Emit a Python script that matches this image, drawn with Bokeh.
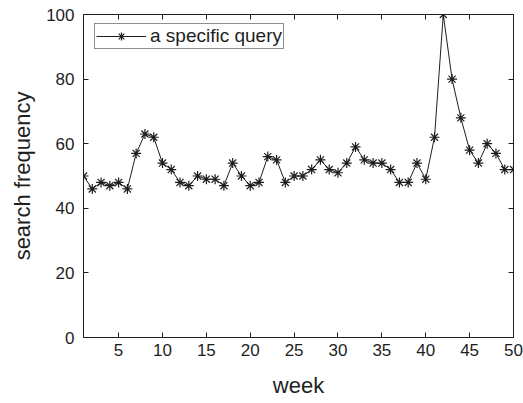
from bokeh.plotting import figure
from bokeh.models import LinearAxis, Legend, LegendItem, FixedTicker, Range1d, CustomJSTickFormatter
from bokeh.embed import file_html
from bokeh.resources import INLINE

weeks = list(range(1, 51))
frequency = [50, 46, 48, 47, 48, 46, 57, 63, 62, 54,
             52, 48, 47, 50, 49, 49, 47, 54, 50, 47,
             48, 56, 55, 48, 50, 50, 52, 55, 52, 51,
             54, 59, 55, 54, 54, 52, 48, 48, 54, 49,
             62, 100, 80, 68, 58, 54, 60, 57, 52, 52]
x_ticks = [5, 10, 15, 20, 25, 30, 35, 40, 45, 50]
y_ticks = [0, 20, 40, 60, 80, 100]
series_label = "a specific query"

FONT = "Liberation Sans"
INK = "#1e1e1e"

p = figure(width=523, height=400, output_backend="svg", toolbar_location=None,
           x_range=Range1d(1, 50), y_range=Range1d(0, 100),
           min_border_left=83, min_border_right=10, min_border_top=14, min_border_bottom=62)
p.xgrid.visible = False
p.ygrid.visible = False
p.outline_line_color = INK
p.background_fill_color = "white"
p.border_fill_color = "white"

def style_axis(ax, ticks, labels=True):
    ax.ticker = FixedTicker(ticks=ticks)
    ax.major_tick_in = 5
    ax.major_tick_out = 0
    ax.minor_tick_line_color = None
    ax.axis_line_color = INK
    ax.major_tick_line_color = INK
    ax.major_label_text_font = FONT
    ax.major_label_text_font_size = "17px"
    ax.major_label_text_color = INK
    ax.axis_label_text_font = FONT
    ax.axis_label_text_font_size = "22px"
    ax.axis_label_text_font_style = "normal"
    ax.axis_label_text_color = INK
    if not labels:
        ax.formatter = CustomJSTickFormatter(code="return ''")
        ax.major_label_standoff = 0

style_axis(p.xaxis[0], x_ticks)
style_axis(p.yaxis[0], y_ticks)
p.xaxis[0].axis_label = "week"
p.yaxis[0].axis_label = "search frequency"
p.xaxis[0].major_label_standoff = 6
p.xaxis[0].axis_label_standoff = 14
p.yaxis[0].major_label_standoff = 9
p.yaxis[0].axis_label_standoff = 8

top = LinearAxis()
style_axis(top, x_ticks, labels=False)
p.add_layout(top, "above")
right = LinearAxis()
style_axis(right, y_ticks, labels=False)
p.add_layout(right, "right")

ln = p.line(weeks, frequency, line_color=INK, line_width=1)
sc = p.scatter(weeks, frequency, marker="asterisk", size=10, line_color=INK, line_width=1.2)

legend = Legend(items=[LegendItem(label=series_label, renderers=[ln, sc])],
                location=(11, 288))
legend.glyph_width = 50
legend.glyph_height = 20
legend.label_text_font = FONT
legend.label_text_font_size = "19px"
legend.label_text_color = INK
legend.label_height = 14
legend.border_line_color = INK
legend.border_line_width = 1
legend.border_radius = 0
legend.padding = 1
legend.spacing = 0
legend.label_standoff = 4
legend.margin = 0
legend.background_fill_alpha = 1
p.add_layout(legend, "center")

open("out.html", "w").write(file_html(p, INLINE))
